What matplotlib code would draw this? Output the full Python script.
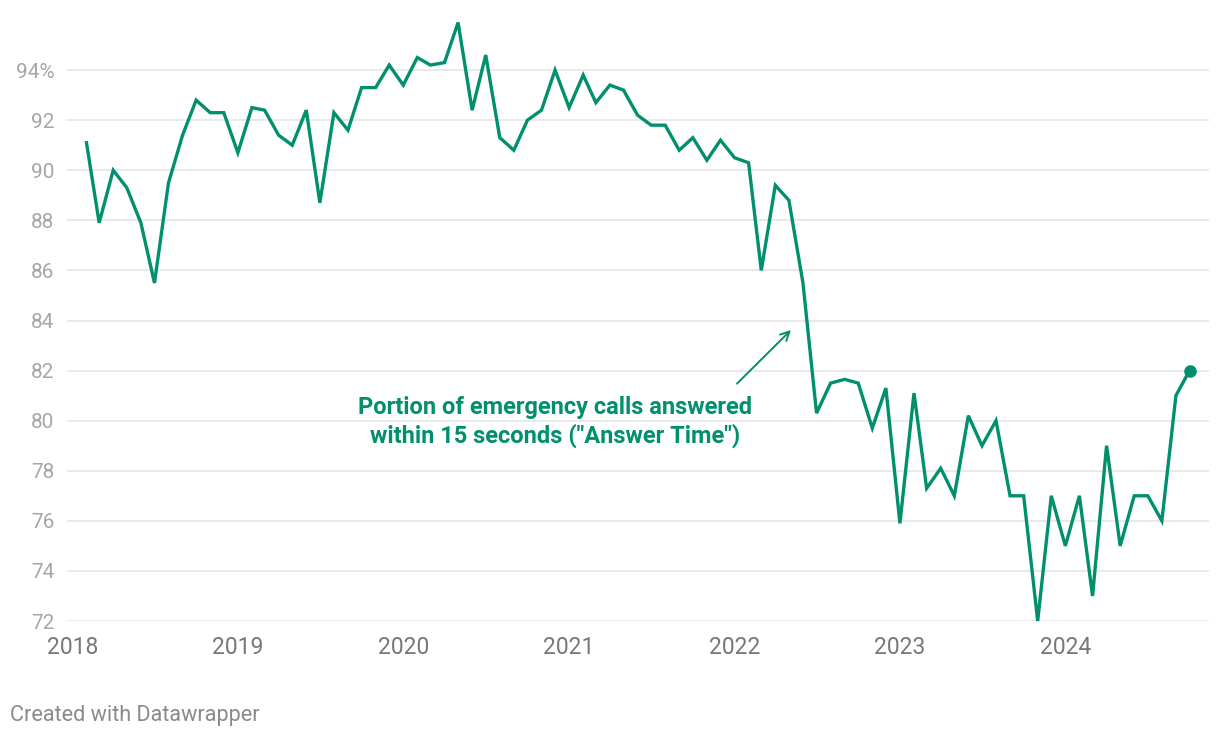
import numpy as np
import pandas as pd
import matplotlib
matplotlib.use("Agg")
import matplotlib.pyplot as plt

plt.rcParams['font.family'] = ['Roboto', 'DejaVu Sans']

# monthly share of 911 calls answered within 15 s, Feb 2018 - Oct 2024
months = pd.date_range("2018-02-01", periods=81, freq="MS")
answer_time = [
    91.1, 87.9, 90.0, 89.3, 87.9, 85.5, 89.5, 91.4, 92.8, 92.3, 92.3,
    90.7, 92.5, 92.4, 91.4, 91.0, 92.4, 88.7, 92.3, 91.6, 93.3, 93.3, 94.2,
    93.4, 94.5, 94.2, 94.3, 95.9, 92.4, 94.6, 91.3, 90.8, 92.0, 92.4, 94.0,
    92.5, 93.8, 92.7, 93.4, 93.2, 92.2, 91.8, 91.8, 90.8, 91.3, 90.4, 91.2,
    90.5, 90.3, 86.0, 89.4, 88.8, 85.5, 80.3, 81.5, 81.65, 81.5, 79.7, 81.3,
    75.9, 81.1, 77.3, 78.1, 77.0, 80.2, 79.0, 80.0, 77.0, 77.0, 72.0, 77.0,
    75.0, 77.0, 73.0, 79.0, 75.0, 77.0, 77.0, 76.0, 81.0, 82.0,
]
y_ticks = [72, 74, 76, 78, 80, 82, 84, 86, 88, 90, 92, 94]
y_labels = [str(v) for v in y_ticks[:-1]] + ["94%"]
years = [2018, 2019, 2020, 2021, 2022, 2023, 2024]

green = "#00906d"

fig = plt.figure(figsize=(12.2, 7.38), dpi=100)
ax = fig.add_axes([67/1220, 117/738, (1209-67)/1220, 601/738])

ax.plot(months, answer_time, color=green, lw=2.4, solid_joinstyle="miter",
        clip_on=False, zorder=3)
ax.plot(months[-1:], answer_time[-1:], "o", color=green, ms=8, clip_on=False, zorder=4)

x0 = pd.Timestamp("2018-01-01")
ax.set_xlim(x0 - pd.Timedelta(days=12), x0 + pd.Timedelta(days=2508))
ax.set_ylim(72, 96)

ax.set_yticks(y_ticks)
ax.set_yticklabels(y_labels)
ax.set_xticks([pd.Timestamp(f"{y}-01-01") for y in years])
ax.set_xticklabels([str(y) for y in years])

ax.grid(axis="y", color="#e3e3e3", lw=1.1)
ax.set_axisbelow(True)
for s in ax.spines.values():
    s.set_visible(False)
ax.tick_params(axis="y", length=0, pad=9, labelsize=15, labelcolor="#a6a6a6")
ax.tick_params(axis="x", length=0, pad=11, labelsize=16.5, labelcolor="#777777")

# annotation
ax.annotate("", xy=(x0 + pd.Timedelta(days=1590), 83.7),
            xytext=(x0 + pd.Timedelta(days=1462), 81.4),
            arrowprops=dict(arrowstyle="->", color=green, lw=1.4, mutation_scale=16))
ax.text(x0 + pd.Timedelta(days=1065), 79.95,
        "Portion of emergency calls answered\nwithin 15 seconds (\"Answer Time\")",
        ha="center", va="center", fontsize=17, fontweight="bold", color=green,
        linespacing=1.22)

fig.text(10/1220, 1 - 715/738, "Created with Datawrapper", ha="left", va="center",
         fontsize=15.6, color="#8a8a8a")

fig.savefig("out.png", dpi=100)
